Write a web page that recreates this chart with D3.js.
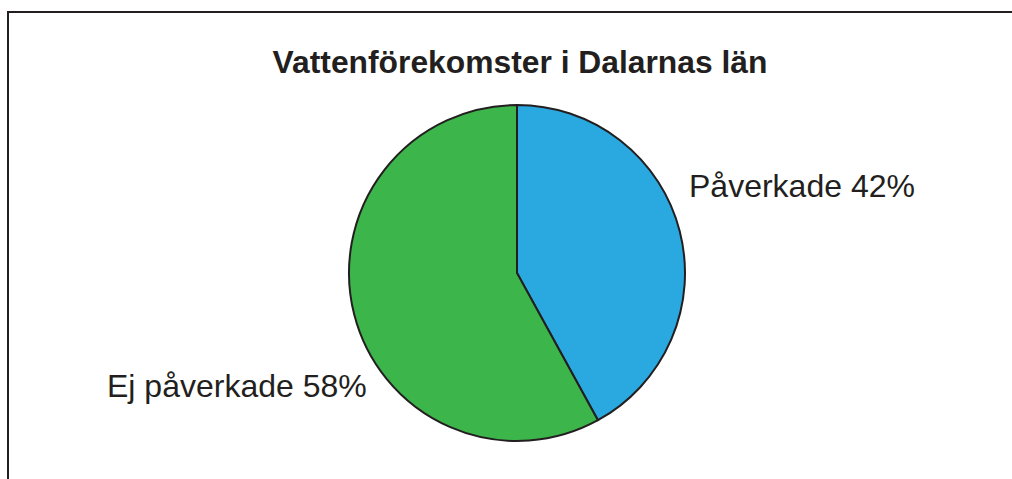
<!DOCTYPE html>
<html>
<head>
<meta charset="utf-8">
<script src="https://cdn.jsdelivr.net/npm/d3@7"></script>
<style>
  body { margin: 0; background: #fff; overflow: hidden; }
  svg { display: block; }
</style>
</head>
<body>
<svg id="chart"></svg>
<script>
// data
const title = 'Vattenförekomster i Dalarnas län';
const categories = ['Påverkade', 'Ej påverkade'];
const values = [42, 58];
const colors = ['#29a9e0', '#3cb54a'];

const width = 1012, height = 479;
const cx = 517, cy = 273, radius = 168;

const svg = d3.select('#chart')
    .attr('width', width)
    .attr('height', height);

// ram (bara övre och vänstra kanten syns)
svg.append('path')
    .attr('d', `M8,${height} L8,12 L${width},12`)
    .attr('fill', 'none')
    .attr('stroke', '#231f20')
    .attr('stroke-width', 2);

svg.append('text')
    .attr('x', 520).attr('y', 73)
    .attr('text-anchor', 'middle')
    .style('font-family', 'Liberation Sans, Arial, sans-serif')
    .style('font-weight', 'bold')
    .style('font-size', '31.8px')
    .attr('fill', '#231f20')
    .text(title);

const data = categories.map((c, i) => ({ name: c, value: values[i], color: colors[i] }));

const pie = d3.pie().sort(null).value(d => d.value);
const arc = d3.arc().innerRadius(0).outerRadius(radius);

const g = svg.append('g').attr('transform', `translate(${cx}, ${cy})`);

g.selectAll('path')
    .data(pie(data))
    .join('path')
    .attr('d', arc)
    .attr('fill', d => d.data.color)
    .attr('stroke', '#231f20')
    .attr('stroke-width', 2)
    .attr('stroke-linejoin', 'miter');

// etiketter
const labelPos = [
    { x: 689, y: 197, anchor: 'start' },
    { x: 107, y: 397, anchor: 'start' }
];

svg.selectAll('text.lbl')
    .data(data)
    .join('text')
    .attr('class', 'lbl')
    .attr('x', (d, i) => labelPos[i].x)
    .attr('y', (d, i) => labelPos[i].y)
    .attr('text-anchor', (d, i) => labelPos[i].anchor)
    .style('font-family', 'Liberation Sans, Arial, sans-serif')
    .style('font-size', '32px')
    .attr('fill', '#231f20')
    .text(d => `${d.name} ${d.value}%`);
</script>
</body>
</html>
